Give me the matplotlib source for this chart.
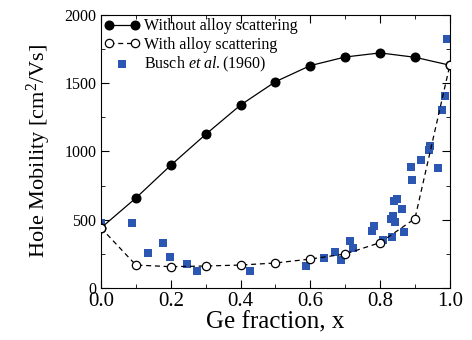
import matplotlib
matplotlib.use("Agg")
import matplotlib.pyplot as plt
from matplotlib.ticker import MultipleLocator

plt.rcParams['font.family'] = ['Liberation Serif', 'DejaVu Serif']
plt.rcParams['mathtext.fontset'] = 'custom'
plt.rcParams['mathtext.rm'] = 'Liberation Serif'
plt.rcParams['mathtext.it'] = 'Liberation Serif:italic'

x_calc = [0.0, 0.1, 0.2, 0.3, 0.4, 0.5, 0.6, 0.7, 0.8, 0.9, 1.0]
without_alloy = [440, 659, 899, 1125, 1340, 1511, 1629, 1692, 1722, 1690, 1632]
with_alloy = [440, 168, 156, 161, 168, 183, 212, 249, 332, 508, 1632]

busch_x = [0.0, 0.088, 0.136, 0.179, 0.198, 0.247, 0.276, 0.428, 0.587, 0.640,
           0.672, 0.688, 0.713, 0.723, 0.778, 0.782, 0.808, 0.833, 0.831, 0.838,
           0.843, 0.840, 0.848, 0.862, 0.869, 0.889, 0.893, 0.918, 0.940, 0.943,
           0.966, 0.993, 0.987, 0.978]
busch_y = [478, 478, 254, 327, 227, 178, 127, 127, 161, 220,
           264, 207, 347, 296, 418, 452, 354, 373, 505, 527,
           486, 637, 654, 581, 410, 886, 794, 935, 1011, 1040,
           877, 1822, 1404, 1304]

fig = plt.figure(figsize=(4.72, 3.40), dpi=100)
ax = fig.add_axes([0.214, 0.153, 0.739, 0.803])

ax.scatter(busch_x, busch_y, marker='s', s=28, color='#2B57B3', zorder=2,
           label='Busch $\\it{et\\ al.}$(1960)', linewidths=0)
ax.plot(x_calc, without_alloy, '-o', color='black', lw=0.9, ms=6.2,
        mfc='black', mec='black', zorder=3, label='Without alloy scattering')
ax.plot(x_calc, with_alloy, '--o', color='black', lw=0.9, ms=6,
        mfc='white', mec='black', mew=0.9, dashes=(4, 3), zorder=3,
        label='With alloy scattering')

ax.set_xlim(0, 1.0)
ax.set_ylim(0, 2000)
ax.set_xticks([0, 0.2, 0.4, 0.6, 0.8, 1.0])
ax.set_xticklabels(['0.0', '0.2', '0.4', '0.6', '0.8', '1.0'])
ax.xaxis.set_minor_locator(MultipleLocator(0.1))
ax.yaxis.set_major_locator(MultipleLocator(500))
ax.yaxis.set_minor_locator(MultipleLocator(250))
ax.tick_params(which='both', direction='in', top=True, right=True)
ax.tick_params(which='major', length=6)
ax.tick_params(which='minor', length=3)
ax.tick_params(axis='x', labelsize=15, pad=3)
ax.tick_params(axis='y', labelsize=11.5)

ax.set_xlabel('Ge fraction, x', fontsize=18, labelpad=0)
ax.set_ylabel('Hole Mobility [cm$^2$/Vs]', fontsize=16, labelpad=8)

handles, labels = ax.get_legend_handles_labels()
order = [1, 2, 0]
ax.legend([handles[i] for i in order], [labels[i] for i in order],
          loc='upper left', frameon=False, fontsize=11.5, numpoints=2,
          scatterpoints=1, handlelength=2.2, handletextpad=0.3,
          borderaxespad=0.0, borderpad=0.2, labelspacing=0.15)

fig.savefig('out.png', dpi=100)
